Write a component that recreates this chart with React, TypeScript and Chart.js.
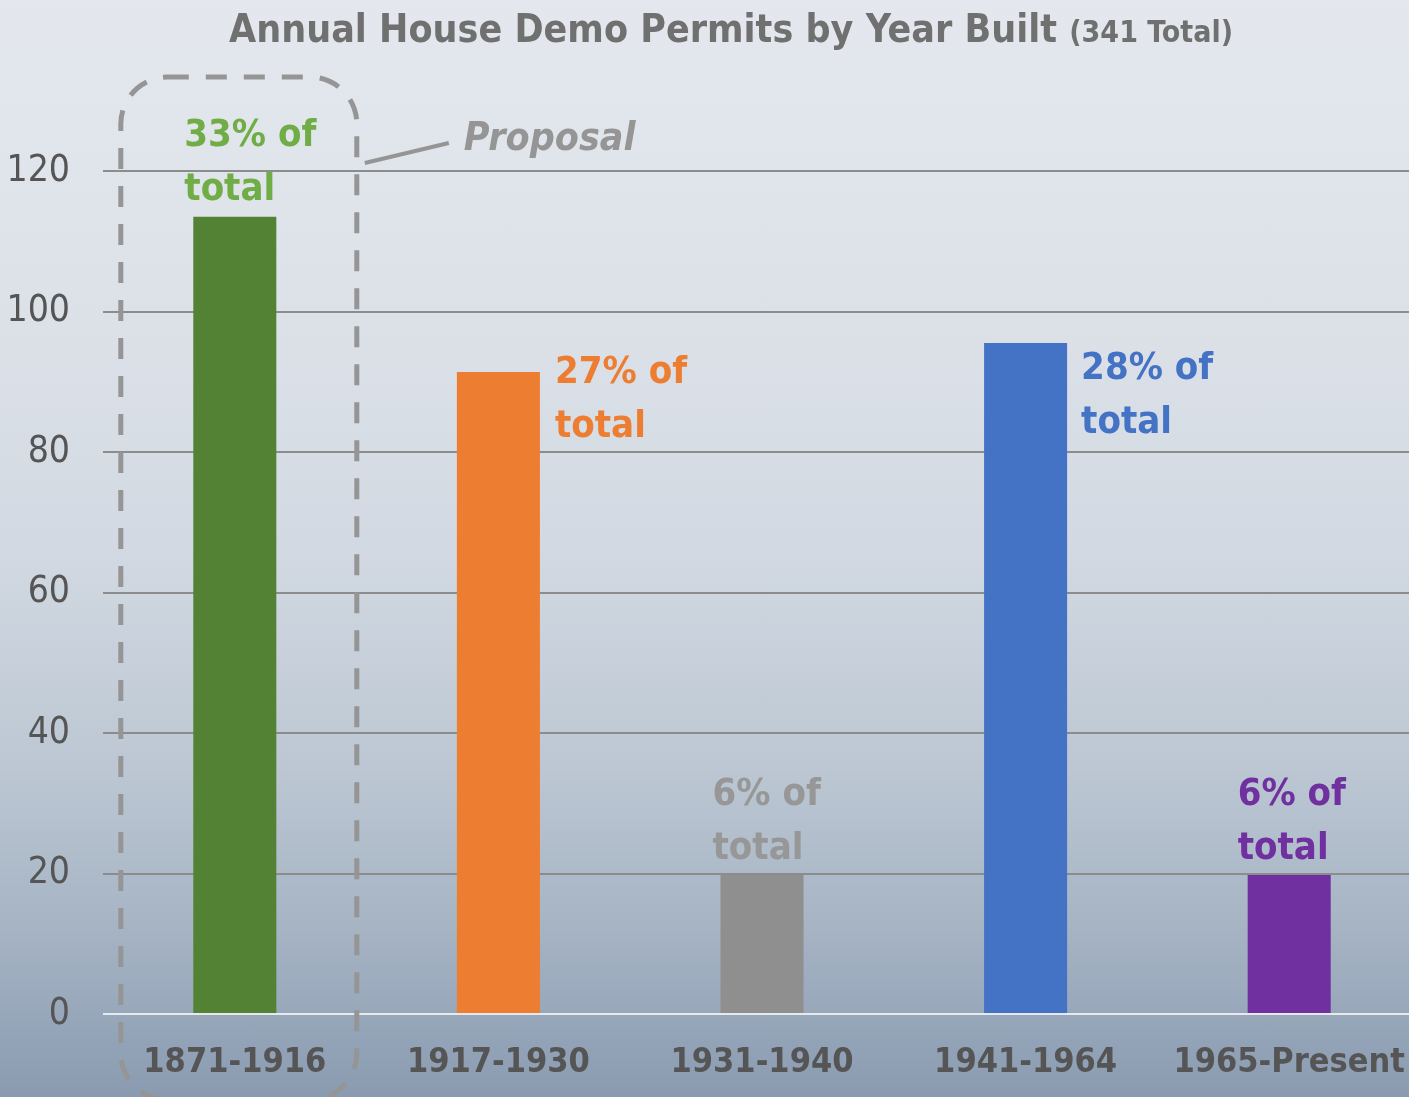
import React, { useEffect, useRef } from "react";
import { Chart, registerables } from "chart.js";

Chart.register(...registerables);

const categories = ["1871-1916", "1917-1930", "1931-1940", "1941-1964", "1965-Present"];
const permits = [113.5, 91.4, 19.8, 95.5, 19.8];
const percentLabels = ["33% of", "27% of", "6% of", "28% of", "6% of"];
const barColors = ["#548235", "#ed7d31", "#8f8f8f", "#4472c4", "#7030a0"];
const labelColors = ["#70ad47", "#ed7d31", "#979797", "#4472c4", "#7030a0"];
const yTicks = [0, 20, 40, 60, 80, 100, 120];
const titleMain = "Annual House Demo Permits by Year Built";
const titleSub = "(341 Total)";
const proposalText = "Proposal";

// label placement: side "above" (left aligned near bar left, above bar) or "right"
const labelPlacement = [
  { side: "above", dx: -9, dy: -17 },
  { side: "right", dx: 15, dy: 11 },
  { side: "above", dx: -8, dy: -16 },
  { side: "right", dx: 14, dy: 36 },
  { side: "above", dx: -10, dy: -16 },
];

const FAM = '"DejaVu Sans Condensed", "DejaVu Sans", sans-serif';

const overlayPlugin = {
  id: "overlay",
  afterDraw(chart: any) {
    const ctx = chart.ctx as CanvasRenderingContext2D;
    const meta = chart.getDatasetMeta(0);
    const xs = chart.scales.x;
    ctx.save();

    // Title
    ctx.textBaseline = "alphabetic";
    ctx.textAlign = "left";
    ctx.fillStyle = "#707070";
    ctx.font = `bold 39px ${FAM}`;
    const w1 = ctx.measureText(titleMain + " ").width;
    ctx.font = `bold 30px ${FAM}`;
    const w2 = ctx.measureText(titleSub).width;
    const tx = 731 - (w1 + w2) / 2;
    ctx.font = `bold 39px ${FAM}`;
    ctx.fillText(titleMain, tx, 42);
    ctx.font = `bold 30px ${FAM}`;
    ctx.fillText(titleSub, tx + w1, 42);

    // Bar labels
    ctx.font = `bold 38px ${FAM}`;
    meta.data.forEach((bar: any, i: number) => {
      const p = labelPlacement[i];
      const left = bar.x - bar.width / 2;
      const right = bar.x + bar.width / 2;
      ctx.fillStyle = labelColors[i];
      if (p.side === "above") {
        const b2 = bar.y + p.dy;
        ctx.fillText(percentLabels[i], left + p.dx, b2 - 54);
        ctx.fillText("total", left + p.dx, b2);
      } else {
        const b1 = bar.y + p.dy;
        ctx.fillText(percentLabels[i], right + p.dx, b1);
        ctx.fillText("total", right + p.dx, b1 + 54);
      }
    });

    // Dashed proposal box around first category
    const cx = xs.getPixelForValue(0);
    const bx0 = cx - 114;
    const bx1 = cx + 122;
    const by0 = 77;
    const by1 = 1100;
    const r = 47;
    ctx.strokeStyle = "#959595";
    ctx.lineWidth = 5;
    ctx.setLineDash([21, 17]);
    ctx.beginPath();
    ctx.moveTo(bx0 + r, by0);
    ctx.lineTo(bx1 - r, by0);
    ctx.arcTo(bx1, by0, bx1, by0 + r, r);
    ctx.lineTo(bx1, by1 - r);
    ctx.arcTo(bx1, by1, bx1 - r, by1, r);
    ctx.lineTo(bx0 + r, by1);
    ctx.arcTo(bx0, by1, bx0, by1 - r, r);
    ctx.lineTo(bx0, by0 + r);
    ctx.arcTo(bx0, by0, bx0 + r, by0, r);
    ctx.closePath();
    ctx.stroke();
    ctx.setLineDash([]);

    // connector
    ctx.lineWidth = 4;
    ctx.beginPath();
    ctx.moveTo(bx1 + 8, 163);
    ctx.lineTo(bx1 + 92, 143);
    ctx.stroke();

    ctx.fillStyle = "#959595";
    ctx.font = `italic bold 39px ${FAM}`;
    ctx.fillText(proposalText, bx1 + 107, 150);

    ctx.restore();
  },
};

export default function App() {
  const ref = useRef<HTMLCanvasElement | null>(null);
  useEffect(() => {
    document.body.style.margin = "0";
    document.body.style.overflow = "hidden";
    if (!ref.current) return;
    const chart = new Chart(ref.current, {
      type: "bar",
      data: {
        labels: categories,
        datasets: [
          {
            data: permits,
            backgroundColor: barColors,
            borderWidth: 0,
            categoryPercentage: 1,
            barPercentage: 0.315,
          },
        ],
      },
      options: {
        responsive: false,
        animation: false,
        devicePixelRatio: 1,
        layout: { padding: { top: 171, left: 0, right: 0, bottom: 0 } },
        plugins: {
          legend: { display: false },
          tooltip: { enabled: false },
          title: { display: false },
        },
        scales: {
          x: {
            grid: { display: false, drawTicks: false },
            border: { display: false },
            ticks: {
              color: "#555555",
              font: { family: FAM, size: 34, weight: "bold" },
              padding: 29,
              maxRotation: 0,
              autoSkip: false,
            },
            afterFit: (s: any) => {
              s.height = 83;
              s.paddingLeft = 0;
              s.paddingRight = 0;
            },
          },
          y: {
            min: 0,
            max: 120,
            afterBuildTicks: (s: any) => {
              s.ticks = yTicks.map((v) => ({ value: v }));
            },
            grid: {
              drawTicks: false,
              lineWidth: 2,
              color: (c: any) => (c.tick && c.tick.value === 0 ? "#e6e9ee" : "#8c8c8c"),
            },
            border: { display: false },
            ticks: {
              color: "#555555",
              font: { family: FAM, size: 37 },
              padding: 33,
            },
            afterFit: (s: any) => {
              s.width = 103;
            },
          },
        },
      },
      plugins: [overlayPlugin],
    } as any);
    return () => chart.destroy();
  }, []);

  return (
    <div
      style={{
        width: 1409,
        height: 1097,
        overflow: "hidden",
        position: "relative",
        background:
          "linear-gradient(to bottom, #e4e8ee 0%, #dce1e8 30%, #d2d9e2 50%, #bcc7d3 70%, #a5b3c3 85%, #8a9bb1 100%)",
      }}
    >
      <canvas ref={ref} width={1421} height={1097} style={{ display: "block" }} />
    </div>
  );
}
